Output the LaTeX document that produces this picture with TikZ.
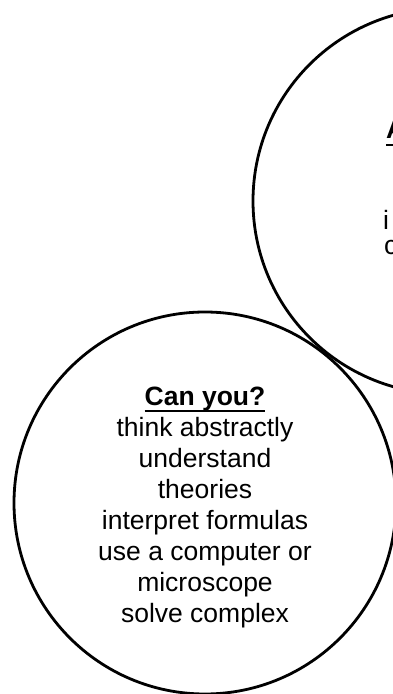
\documentclass[tikz,border=0pt]{standalone}
\usepackage{fontspec}
\setmainfont{Liberation Sans}

\newsavebox{\headbox}
\newcommand{\headline}[1]{%
    \sbox{\headbox}{\textbf{#1}}\rlap{\usebox{\headbox}}\rule[-7pt]{\wd\headbox}{2.4pt}}

\begin{document}
\begin{tikzpicture}[
    x=1pt,y=1pt,
    bubble/.style      = {circle,draw=black,line width=2.8pt,inner sep=0pt},
    bubble text/.style = {font=\fontsize{26.5}{31}\selectfont,align=center,inner sep=0pt},
    cut text/.style    = {font=\fontsize{26.5}{31}\selectfont,anchor=base west,inner sep=0pt}
]
\useasboundingbox (0,0) rectangle (392,694);

% the two bubbles, the upper one runs off the right edge
    \node [bubble,minimum size=386pt] (upper) at (446,493) {};
    \node [bubble,minimum size=382pt] (lower) at (205,191) {};

% text of the upper bubble (only its left end is in the picture)
    \node [cut text] (upperhead) at (386,555) {\headline{A}};
    \node [cut text] (upperi)    at (383,464) {i};
    \node [cut text] (upperc)    at (384,439) {c};

% text of the lower bubble
    \node [bubble text] (lowertext) at (205,187) {%
        \headline{Can you?}\\
        think abstractly\\
        understand\\
        theories\\
        interpret formulas\\
        use a computer or\\
        microscope\\
        solve complex};

\end{tikzpicture}
\end{document}
